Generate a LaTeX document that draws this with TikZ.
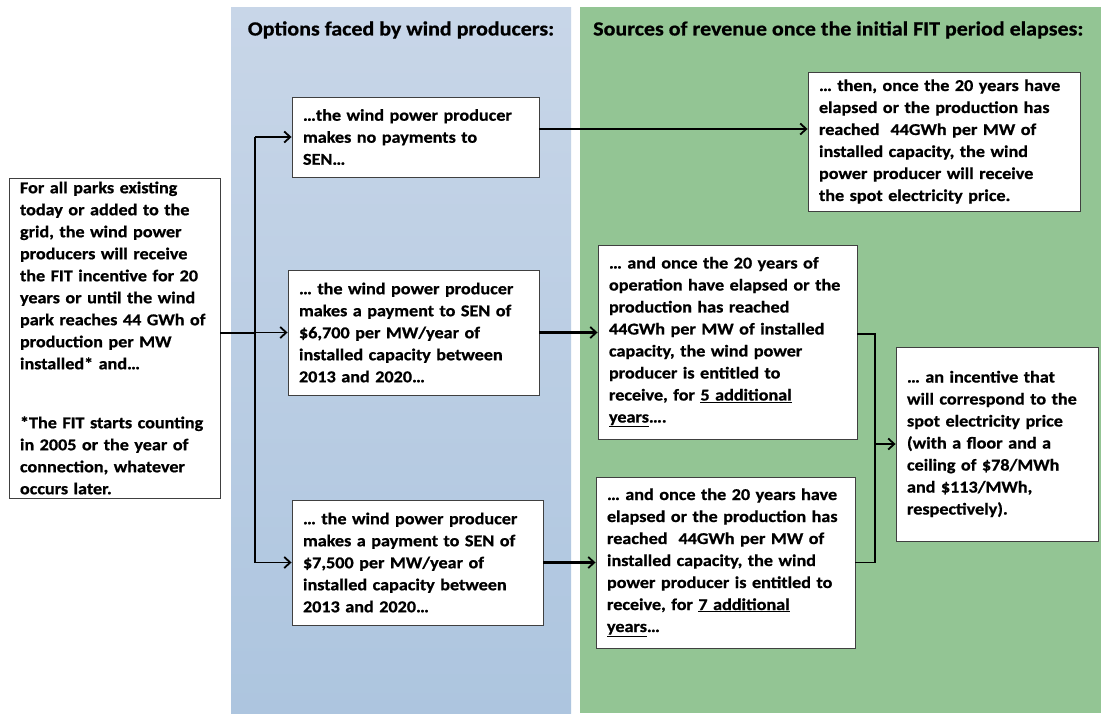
\documentclass[tikz,border=0pt]{standalone}
\usepackage{fontspec}
\setmainfont{Carlito}[FakeStretch=1.1, BoldFeatures={FakeBold=0.8}]
\usetikzlibrary{arrows.meta}
\definecolor{bluetop}{HTML}{C8D6E8}
\definecolor{bluebot}{HTML}{ADC5DF}
\definecolor{greenbg}{HTML}{93C594}
\tikzset{
  box/.style={draw=black!75, fill=white, line width=0.9pt, inner xsep=11pt, inner ysep=0pt, align=left,
    font=\fontsize{16.5}{22}\selectfont\bfseries},
  conn/.style={line width=1.8pt, black},
  arr/.style={conn, -{Straight Barb[length=6pt,width=11pt,line width=1.8pt]}},
  thickarr/.style={line width=2.6pt, black, -{Straight Barb[length=6pt,width=11pt,line width=1.8pt]}},
  header/.style={font=\fontsize{20}{22}\selectfont\bfseries, inner sep=0pt}
}
\begin{document}
\begin{tikzpicture}[x=1pt,y=-1pt]
\useasboundingbox (0,0) rectangle (1106,713);
\fill[white] (0,0) rectangle (1106,713);
% panels
\shade[top color=bluetop, bottom color=bluebot] (231,7) rectangle (571,713);
\fill[greenbg] (580,7) rectangle (1101,713);
\node[header, anchor=center] (h1) at (401,30) {Options faced by wind producers:};
\node[header, anchor=west] (h2) at (593,30) {Sources of revenue once the initial FIT period elapses:};
% boxes
\node[box, text width=189pt, minimum height=320pt] (L) at (114.5,338) {For all parks existing\\today or added to the\\grid, the wind power\\producers will receive\\the FIT incentive for 20\\years or until the wind\\park reaches 44 GWh of\\production per MW\\installed* and…\\[37pt]*The FIT starts counting\\in 2005 or the year of\\connection, whatever\\occurs later.};
\node[box, text width=225pt, minimum height=80pt] (b1) at (415.5,137) {…the wind power producer\\makes no payments to\\SEN…};
\node[box, text width=229pt, minimum height=125pt] (b2) at (413.5,332.5) {… the wind power producer\\makes a payment to SEN of\\\$6,700 per MW/year of\\installed capacity between\\2013 and 2020…};
\node[box, text width=229pt, minimum height=125pt] (b3) at (417.5,562.5) {… the wind power producer\\makes a payment to SEN of\\\$7,500 per MW/year of\\installed capacity between\\2013 and 2020…};
\node[box, text width=250pt, minimum height=139pt] (t1) at (944,141.5) {… then, once the 20 years have\\elapsed or the production has\\reached\ \ 44GWh per MW of\\installed capacity, the wind\\power producer will receive\\the spot electricity price.};
\node[box, text width=237pt, minimum height=194pt] (b4) at (727.5,342) {… and once the 20 years of\\operation have elapsed or the\\production has reached\\44GWh per MW of installed\\capacity, the wind power\\producer is entitled to\\receive, for \underline{5 additional}\\\underline{years}….};
\node[box, text width=237pt, minimum height=171pt] (b5) at (725.5,562.5) {… and once the 20 years have\\elapsed or the production has\\reached\ \ 44GWh per MW of\\installed capacity, the wind\\power producer is entitled to\\receive, for \underline{7 additional}\\\underline{years}…};
\node[box, text width=180pt, minimum height=194pt] (b6) at (997,444) {… an incentive that\\will correspond to the\\spot electricity price\\(with a floor and a\\ceiling of \$78/MWh\\and \$113/MWh,\\respectively).};
% connectors
\coordinate (j) at (255,333);
\coordinate (k) at (875,334);
\draw[conn] (L.east |- j) -- (j);
\draw[conn] (j |- b1.west) -- (j |- b3.west);
\draw[arr] (j |- b1.west) -- (b1.west);
\draw[arr] (j |- b2.west) -- (b2.west);
\draw[arr] (j |- b3.west) -- (b3.west);
\draw[arr] (b1.east |- 0,129) -- (t1.west |- 0,129);
\draw[thickarr] (b2.east) -- (b4.west |- b2.east);
\draw[thickarr] (b3.east) -- (b5.west);
\draw[conn] (b4.east |- k) -- (k) -- (k |- b5.east) -- (b5.east);
\draw[arr] (k |- b6.west) -- (b6.west);
\end{tikzpicture}
\end{document}
